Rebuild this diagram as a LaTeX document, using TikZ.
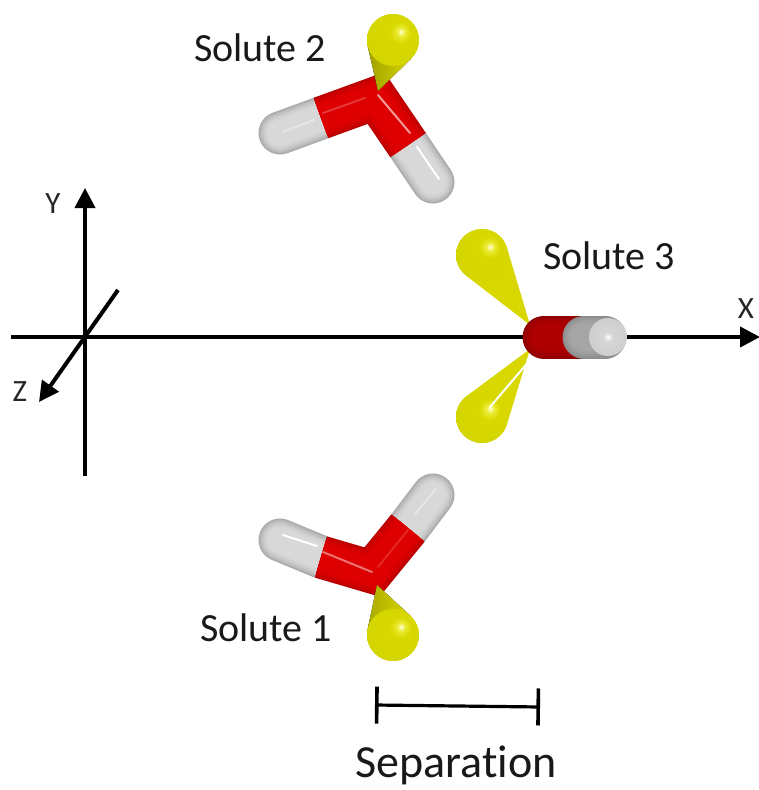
\documentclass[tikz,border=0pt]{standalone}
\usepackage{fontspec}
\setmainfont[Ligatures=NoCommon]{Carlito}
\usetikzlibrary{arrows.meta, calc}

% shaded balls for the atoms
\pgfdeclareradialshading{yellowball}{\pgfpoint{8bp}{8bp}}{%
  rgb(0bp)=(1,1,.85); rgb(4bp)=(.92,.92,.2); rgb(10bp)=(.85,.85,0);
  rgb(34bp)=(.83,.83,0); rgb(50bp)=(.72,.72,0); rgb(100bp)=(.72,.72,0)}
\pgfdeclareradialshading{greyball}{\pgfpoint{0bp}{0bp}}{%
  rgb(0bp)=(1,1,1); rgb(6bp)=(.84,.84,.84); rgb(30bp)=(.8,.8,.8);
  rgb(50bp)=(.72,.72,.72); rgb(100bp)=(.72,.72,.72)}
\definecolor{OxygenRed}{HTML}{DE0000}
\definecolor{OxygenEdge}{HTML}{B80000}
\definecolor{DarkRed}{HTML}{AE0000}
\definecolor{DarkRedEdge}{HTML}{8C0000}
\definecolor{HydrogenGrey}{HTML}{D8D8D8}
\definecolor{HydrogenEdge}{HTML}{A8A8A8}
\definecolor{SideGrey}{HTML}{A6A6A6}
\definecolor{SideEdge}{HTML}{8A8A8A}
\definecolor{LobeYellow}{HTML}{D8D800}
\definecolor{LobeOlive}{HTML}{A0A000}

% tube: path, centre colour, edge colour, cap
\newcommand{\tube}[4]{%
  \foreach \wd/\mx in {43/0,41/25,38/50,34/75,30/90,26/100}{%
    \draw[line width=\wd pt, line cap=#4, miter limit=10, color=#2!\mx!#3] #1;}}
% lobe: name, apex, centre of the ball, fill of the cone
\newcommand{\lobe}[4]{%
  \node[yball] (#1) at #3 {};
  \fill[#4] (#2) -- (tangent cs:node=#1,point={(#2)},solution=1)
    -- (tangent cs:node=#1,point={(#2)},solution=2) -- cycle;
  \node[yball] at #3 {};}

\begin{document}
\begin{tikzpicture}[
            x=1pt, y=-1pt,
            axis/.style={draw, line width=4pt, -{Triangle[length=20pt,width=20pt]}},
            scalebar/.style={draw, line width=3.2pt, {Bar[width=37pt,line width=3.6pt]}-{Bar[width=37pt,line width=3.6pt]}},
            yball/.style={circle, inner sep=0pt, outer sep=0pt, minimum size=52pt, shading=yellowball},
            gball/.style={circle, inner sep=0pt, outer sep=0pt, minimum size=38pt, shading=greyball},
            glint/.style={draw=white, line width=2pt, line cap=round},
            softglint/.style={draw=#1, line width=2pt, line cap=round},
            label/.style={font=\fontsize{40}{40}\selectfont, text=black!90, inner sep=0pt},
            axislabel/.style={font=\fontsize{31}{31}\selectfont, text=black!85, inner sep=0pt}
        ]
        \useasboundingbox (0,0) rectangle (758,790);

        % --- Axes ---
        \coordinate (xstart) at (11,337);
        \coordinate (xend) at (760,337);
        \coordinate (ystart) at (85,476);
        \coordinate (yend) at (85,188);
        \coordinate (zstart) at (118,290);
        \coordinate (zend) at (39,402);
        \path[axis] (xstart) -- (xend);
        \path[axis] (ystart) -- (yend);
        \path[axis] (zstart) -- (zend);

        % --- Solute 2 ---
        \coordinate (o2) at (376,98);
        \coordinate (a2) at (321,118);
        \coordinate (b2) at (408,145);
        \coordinate (h2a) at (280,133);
        \coordinate (h2b) at (433,182);
        \tube{(a2) -- (h2a)}{HydrogenGrey}{HydrogenEdge}{round}
        \tube{(b2) -- (h2b)}{HydrogenGrey}{HydrogenEdge}{round}
        \tube{(a2) -- (o2) -- (b2)}{OxygenRed}{OxygenEdge}{butt}
        \draw[softglint=white!60!OxygenRed] (378,95) -- (410,133);
        \draw[softglint=white!22!OxygenRed] (323,113) -- (365,98);
        \draw[glint] (417,147) -- (439,179);
        \draw[softglint=white!35!HydrogenGrey] (283,132) -- (314,120);
        \coordinate (tip2) at (378,91);
        \lobe{top2}{tip2}{(393,40)}{left color=LobeOlive, right color=LobeYellow}

        % --- Solute 3 ---
        \coordinate (tip3a) at (530,325);
        \coordinate (tip3b) at (530,349);
        \coordinate (h3) at (608,337);
        \coordinate (m3) at (580,337);
        \coordinate (c3) at (544,337);
        \lobe{up3}{tip3a}{(482,255)}{fill=LobeYellow}
        \lobe{down3}{tip3b}{(482,417)}{fill=LobeYellow}
        \draw[glint] (490,407) -- (530,360);
        \tube{(c3) -- (m3)}{DarkRed}{DarkRedEdge}{round}
        \tube{(584,337) -- (605,337)}{SideGrey}{SideEdge}{round}
        \node[gball] (end3) at (h3) {};

        % --- Solute 1 ---
        \coordinate (o1) at (372,572);
        \coordinate (a1) at (321,557);
        \coordinate (b1) at (408,528);
        \coordinate (h1a) at (280,540);
        \coordinate (h1b) at (433,495);
        \tube{(a1) -- (h1a)}{HydrogenGrey}{HydrogenEdge}{round}
        \tube{(b1) -- (h1b)}{HydrogenGrey}{HydrogenEdge}{round}
        \tube{(a1) -- (o1) -- (b1)}{OxygenRed}{OxygenEdge}{butt}
        \draw[glint] (283,535) -- (317,546);
        \draw[softglint=white!45!OxygenRed] (323,552) -- (372,572);
        \draw[softglint=white!15!OxygenRed] (378,567) -- (408,530);
        \draw[softglint=white!35!HydrogenGrey] (415,514) -- (436,489);
        \coordinate (tip1) at (377,585);
        \lobe{bottom1}{tip1}{(393,635)}{left color=LobeOlive!80!LobeYellow, right color=LobeYellow}

        % --- Separation bar ---
        \coordinate (sepleft) at (375,705);
        \coordinate (sepright) at (540,707);
        \path[scalebar] (sepleft) -- (sepright);

        % --- Labels ---
        \node[label] (solute2) at (260,48) {Solute 2};
        \node[label] (solute3) at (609,256) {Solute 3};
        \node[label] (solute1) at (266,628) {Solute 1};
        \node[label, font=\fontsize{46}{46}\selectfont] (separation) at (456,765) {Separation};
        \node[axislabel] (xlabel) at (746,309) {X};
        \node[axislabel] (ylabel) at (53,204) {Y};
        \node[axislabel] (zlabel) at (20,392) {Z};
\end{tikzpicture}
\end{document}
